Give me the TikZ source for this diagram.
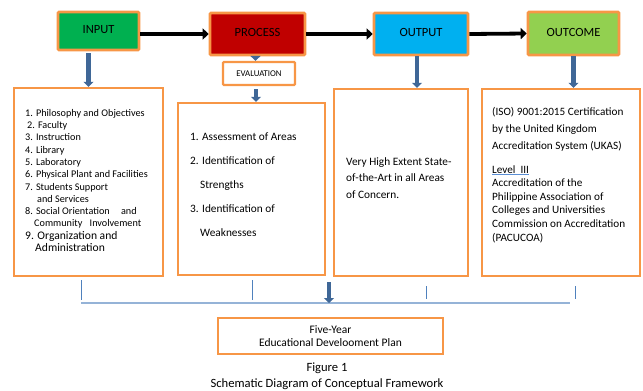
\documentclass[tikz,border=0pt]{standalone}
\usepackage{fontspec}
\setmainfont{Carlito}
\usetikzlibrary{arrows.meta}
\definecolor{borange}{HTML}{F79646}
\definecolor{cgreen}{HTML}{00B050}
\definecolor{cred}{HTML}{C00000}
\definecolor{ccyan}{HTML}{00B0F0}
\definecolor{clime}{HTML}{92D050}
\definecolor{barrow}{HTML}{3F6797}
\definecolor{thinblue}{HTML}{4F81BD}
\definecolor{lightblue}{HTML}{95B3D7}
\definecolor{spellblue}{HTML}{5B8FD5}
\tikzset{
  topbox/.style={draw=borange, line width=2.6pt, rounded corners=1pt, inner sep=0pt, font=\fontsize{12.5}{14}\selectfont},
  lowbox/.style={draw=borange, line width=2.4pt, inner sep=0pt},
  txt/.style={inner sep=0pt, anchor=north west, align=left},
  blackarrow/.style={line width=3.8pt, -{Triangle[length=6pt,width=11pt]}},
  bluearrow/.style={draw=barrow, line width=4.5pt, -{Triangle[length=5pt,width=10pt]}},
  thinline/.style={draw=thinblue, line width=0.9pt},
  hline/.style={draw=lightblue, line width=1.5pt}
}
\begin{document}
\begin{tikzpicture}[x=1pt,y=-1pt]
\useasboundingbox (0,0) rectangle (643,391);
% top boxes
\node[topbox, fill=cgreen, minimum width=81pt, minimum height=38pt] (inp) at (98.5,31) {\raisebox{3pt}{INPUT}};
\node[topbox, fill=cred, minimum width=95pt, minimum height=42pt] (proc) at (257.5,34) {\raisebox{3pt}{PROCESS}};
\node[topbox, fill=ccyan, minimum width=94pt, minimum height=42pt] (outp) at (421,34) {\raisebox{3pt}{OUTPUT}};
\node[topbox, fill=clime, minimum width=91pt, minimum height=43pt] (outc) at (573.5,33.5) {\raisebox{3pt}{OUTCOME}};
\node[topbox, fill=white, line width=2.2pt, minimum width=72pt, minimum height=23pt, font=\fontsize{8.8}{10}\selectfont] (eval) at (259,73.5) {EVALUATION};
% black arrows
\draw[blackarrow] (inp.east |- proc.west) -- (proc.west);
\draw[blackarrow] (proc.east) -- (outp.west);
\draw[blackarrow] (outp.east) -- (outc.west);
% lower boxes
\node[lowbox, minimum width=149pt, minimum height=188pt] (b1) at (88.5,182) {};
\node[lowbox, minimum width=147pt, minimum height=172pt] (b2) at (251.5,189) {};
\node[lowbox, minimum width=134pt, minimum height=187pt] (b3) at (401,182.5) {};
\node[lowbox, minimum width=158pt, minimum height=187pt] (b4) at (561,182.5) {};
% blue arrows
\draw[bluearrow] (b1.north |- inp.south) ++(0,2) -- (b1.north);
\draw[bluearrow] ([xshift=-2pt]proc.south) -- ([xshift=-2pt]proc.south |- eval.north);
\draw[bluearrow] ([xshift=-3pt]eval.south) ++(0,3) -- ([xshift=-3pt]eval.south |- b2.north);
\draw[bluearrow] ([xshift=-4pt]outp.south) -- ([xshift=-4pt]outp.south |- b3.north);
\draw[bluearrow] (outc.south) -- (outc.south |- b4.north);
% texts
\node[txt, font=\fontsize{10.2}{12.3}\selectfont] (t1) at (25,109) {1. Philosophy and Objectives\\
\hspace*{2pt}2. Faculty\\
3. Instruction\\
4. Library\\
5. Laboratory\\
6. Physical Plant and Facilities\\
7. Students Support\\
\hspace*{12pt}and Services\\
8. Social Orientation\hspace*{9pt} and\\
\hspace*{9pt}Community\hspace*{5pt} Involvement\\
{\fontsize{11.6}{12}\selectfont 9. Organization and}\\
{\fontsize{11.6}{12}\selectfont \hspace*{10pt}Administration}};
\node[txt, font=\fontsize{11.3}{24}\selectfont] (t2) at (190,133) {1. Assessment of Areas\\
2. Identification of\\
\hspace*{10pt}Strengths\\
3. Identification of\\
\hspace*{10pt}Weaknesses};
\node[txt, font=\fontsize{11.3}{16.5}\selectfont] (t3) at (346,157) {Very High Extent State-\\of-the-Art in all Areas\\of Concern.};
\node[txt, font=\fontsize{11.2}{16.7}\selectfont] (t4a) at (492,107.5) {(ISO) 9001:2015 Certification\\by the United Kingdom\\Accreditation System (UKAS)};
\node[inner sep=0pt, anchor=base west, font=\fontsize{11.2}{12}\selectfont] (lvl) at (492,173) {Level\ \ III};
\draw[spellblue, line width=1.1pt] ([yshift=-1.8pt]lvl.base west) -- ([yshift=-1.8pt]lvl.base east);
\node[txt, font=\fontsize{11.2}{13.75}\selectfont] (t4b) at (492,178.5) {Accreditation of the\\Philippine Association of\\Colleges and Universities\\Commission on Accreditation\\(PACUCOA)};
% bottom bracket
\coordinate (v1a) at (81,280); \coordinate (v1b) at (81,300);
\coordinate (v2a) at (252,280); \coordinate (v2b) at (252,300);
\coordinate (v3a) at (426,286); \coordinate (v3b) at (426,299);
\coordinate (v4a) at (575,286); \coordinate (v4b) at (575,299);
\coordinate (hl) at (81,303); \coordinate (hr) at (570,303);
\draw[thinline] (v1a) -- (v1b);
\draw[thinline] (v2a) -- (v2b);
\draw[thinline] (v3a) -- (v3b);
\draw[thinline] (v4a) -- (v4b);
\draw[hline] (hl) -- (hr);
\coordinate (da) at (329,282); \coordinate (db) at (329,303);
\draw[bluearrow] (da) -- (db);
% plan box
\node[lowbox, line width=2.4pt, minimum width=225pt, minimum height=36pt, align=center, font=\fontsize{11.5}{13}\selectfont] (fy) at (330.5,336) {Five-Year\\Educational Develooment Plan};
\node[inner sep=0pt, align=center, font=\fontsize{12.6}{15.5}\selectfont] (cap) at (327,376) {Figure 1\\Schematic Diagram of Conceptual Framework};
\end{tikzpicture}
\end{document}
